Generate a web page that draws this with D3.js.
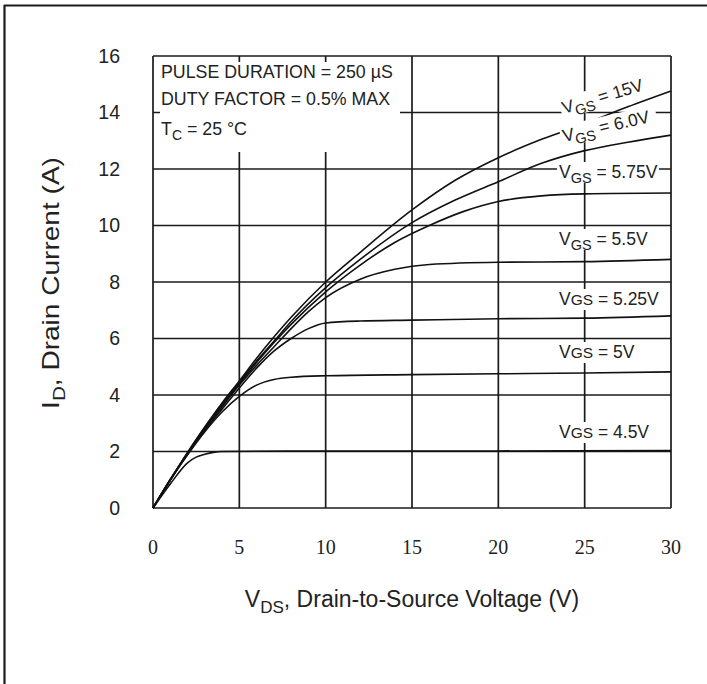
<!DOCTYPE html>
<html>
<head>
<meta charset="utf-8">
<script src="https://cdn.jsdelivr.net/npm/d3@7"></script>
<style>
  body { margin: 0; background: #fff; }
  svg { display: block; }
</style>
</head>
<body>
<svg id="visualization" width="707" height="684"></svg>
<script>
// tick values
var xTicks = [0, 5, 10, 15, 20, 25, 30];
var yTicks = [0, 2, 4, 6, 8, 10, 12, 14, 16];

// curves: [VDS, ID]
var vgs15 = [[0,0],[1,1.0],[2,1.97],[3,2.87],[4,3.72],[5,4.5],[6,5.3],[7,6.05],[8,6.75],[10,8.0],[12,9.05],[15,10.55],[17.5,11.6],[20,12.4],[22.5,13.05],[25,13.6],[27.5,14.2],[30,14.76]];
var vgs60 = [[0,0],[1,1.0],[2,1.95],[3,2.85],[4,3.67],[5,4.45],[6,5.2],[7,5.9],[8,6.6],[10,7.8],[12,8.8],[15,10.1],[17.5,10.9],[20,11.55],[22.5,12.2],[25,12.65],[27.5,12.95],[30,13.2]];
var vgs575 = [[0,0],[1,1.0],[2,1.93],[3,2.8],[4,3.6],[5,4.4],[6,5.15],[7,5.85],[8,6.5],[10,7.65],[12,8.6],[14,9.4],[16,10.0],[18,10.5],[20,10.85],[22.5,11.05],[25,11.12],[30,11.15]];
var vgs55 = [[0,0],[1,1.0],[2,1.92],[3,2.78],[4,3.58],[5,4.35],[6,5.05],[7,5.7],[8,6.35],[9,6.95],[10,7.45],[12,8.1],[14,8.45],[16,8.62],[20,8.7],[25,8.72],[30,8.8]];
var vgs525 = [[0,0],[1,1.0],[2,1.9],[3,2.75],[4,3.5],[5,4.25],[6,4.95],[7,5.55],[8,6.0],[9,6.35],[10,6.55],[12,6.62],[15,6.65],[20,6.7],[25,6.72],[30,6.8]];
var vgs50 = [[0,0],[1,0.98],[2,1.88],[3,2.7],[4,3.4],[5,3.95],[6,4.35],[7,4.55],[8,4.63],[10,4.68],[15,4.72],[20,4.75],[25,4.78],[30,4.82]];
var vgs45 = [[0,0],[1,0.85],[2,1.6],[2.5,1.8],[3,1.9],[3.5,1.97],[4,2.0],[10,2.02],[20,2.02],[30,2.03]];

var curves = [vgs15, vgs60, vgs575, vgs55, vgs525, vgs50, vgs45];

var vis = d3.select("#visualization"),
    MARGINS = { top: 56, right: 36, bottom: 176, left: 153 },
    WIDTH = 707,
    HEIGHT = 684,
    xScale = d3.scaleLinear().domain([0, 30]).range([MARGINS.left, WIDTH - MARGINS.right]),
    yScale = d3.scaleLinear().domain([0, 16]).range([HEIGHT - MARGINS.bottom, MARGINS.top]),
    ink = "#1b1b1b",
    sans = "'Liberation Sans', Arial, sans-serif",
    serif = "'Liberation Serif', 'Times New Roman', serif";

// page border (top and left only)
vis.append("line").attr("x1", 4).attr("y1", 5.5).attr("x2", 707).attr("y2", 5.5)
  .attr("stroke", ink).attr("stroke-width", 2.2);
vis.append("line").attr("x1", 4.5).attr("y1", 5).attr("x2", 4.5).attr("y2", 684)
  .attr("stroke", ink).attr("stroke-width", 2.2);

// grid
vis.append("g").selectAll("line.v")
  .data(xTicks)
  .enter().append("line")
  .attr("x1", function (d) { return xScale(d); })
  .attr("x2", function (d) { return xScale(d); })
  .attr("y1", yScale(16))
  .attr("y2", yScale(0))
  .attr("stroke", ink).attr("stroke-width", 1.7);

vis.append("g").selectAll("line.h")
  .data(yTicks)
  .enter().append("line")
  .attr("x1", xScale(0))
  .attr("x2", xScale(30))
  .attr("y1", function (d) { return yScale(d); })
  .attr("y2", function (d) { return yScale(d); })
  .attr("stroke", ink).attr("stroke-width", 1.7);

// white box behind the test conditions
vis.append("rect")
  .attr("x", 160).attr("y", 62).attr("width", 240).attr("height", 90)
  .attr("fill", "#fff");

// curves
var line = d3.line()
  .x(function (d) { return xScale(d[0]); })
  .y(function (d) { return yScale(d[1]); })
  .curve(d3.curveMonotoneX);

vis.append("g").selectAll("path")
  .data(curves)
  .enter().append("path")
  .attr("d", line)
  .attr("fill", "none")
  .attr("stroke", "#111")
  .attr("stroke-width", 1.6);

// test conditions
var cond = vis.append("g")
  .style("font-family", sans)
  .style("font-size", "17.8px")
  .attr("fill", "#222");
cond.append("text").attr("x", 161).attr("y", 78).text("PULSE DURATION = 250 \u00b5S");
cond.append("text").attr("x", 161).attr("y", 105).text("DUTY FACTOR = 0.5% MAX");
var tc = cond.append("text").attr("x", 161).attr("y", 135);
tc.append("tspan").text("T");
tc.append("tspan").attr("dy", 5).style("font-size", "14px").text("C");
tc.append("tspan").attr("dy", -5).text(" = 25 \u00b0C");

// curve labels: text, x, baseline, rotation, subscripted GS
var labels = [
  { v: "15V", x: 564, y: 114, r: -16.5, sub: true, w: 98 },
  { v: "6.0V", x: 564, y: 142, r: -13, sub: true, w: 98 },
  { v: "5.75V", x: 559, y: 178, r: 0, sub: true, w: 102 },
  { v: "5.5V", x: 559, y: 245, r: 0, sub: true, w: 92 },
  { v: "5.25V", x: 559, y: 305, r: 0, sub: false, w: 102 },
  { v: "5V", x: 559, y: 358, r: 0, sub: false, w: 70 },
  { v: "4.5V", x: 559, y: 438, r: 0, sub: false, w: 94 }
];

labels.forEach(function (d) {
  var g = vis.append("g")
    .attr("transform", "translate(" + d.x + "," + d.y + ") rotate(" + d.r + ")");
  g.append("rect")
    .attr("x", -2).attr("y", -16).attr("width", d.w).attr("height", 21)
    .attr("fill", "#fff");
  var t = g.append("text")
    .style("font-family", sans)
    .style("font-size", "17.5px")
    .attr("fill", "#222");
  if (d.sub) {
    t.append("tspan").text("V");
    t.append("tspan").attr("dy", 5).style("font-size", "14.5px").text("GS");
    t.append("tspan").attr("dy", -5).text(" = " + d.v);
  } else {
    t.append("tspan").text("V");
    t.append("tspan").style("font-size", "15.5px").text("GS");
    t.append("tspan").text(" = " + d.v);
  }
});

// tick labels
vis.append("g").selectAll("text")
  .data(yTicks)
  .enter().append("text")
  .attr("x", 120)
  .attr("y", function (d) { return yScale(d); })
  .attr("dy", "0.35em")
  .attr("text-anchor", "end")
  .style("font-family", sans)
  .style("font-size", "19.5px")
  .attr("fill", "#222")
  .text(function (d) { return d; });

vis.append("g").selectAll("text")
  .data(xTicks)
  .enter().append("text")
  .attr("x", function (d) { return xScale(d); })
  .attr("y", 554)
  .attr("text-anchor", "middle")
  .style("font-family", serif)
  .style("font-size", "20px")
  .attr("fill", "#222")
  .text(function (d) { return d; });

// axis titles
var xt = vis.append("text")
  .attr("x", 412).attr("y", 607)
  .attr("text-anchor", "middle")
  .style("font-family", sans)
  .style("font-size", "23px")
  .attr("fill", "#222");
xt.append("tspan").text("V");
xt.append("tspan").attr("dy", 6).style("font-size", "17px").text("DS");
xt.append("tspan").attr("dy", -6).text(", Drain-to-Source Voltage (V)");

var yt = vis.append("text")
  .attr("transform", "translate(59,283) rotate(-90) scale(1.22,1)")
  .attr("text-anchor", "middle")
  .style("font-family", sans)
  .style("font-size", "23px")
  .attr("fill", "#222");
yt.append("tspan").text("I");
yt.append("tspan").attr("dy", 6).style("font-size", "17px").text("D");
yt.append("tspan").attr("dy", -6).text(", Drain Current (A)");
</script>
</body>
</html>
